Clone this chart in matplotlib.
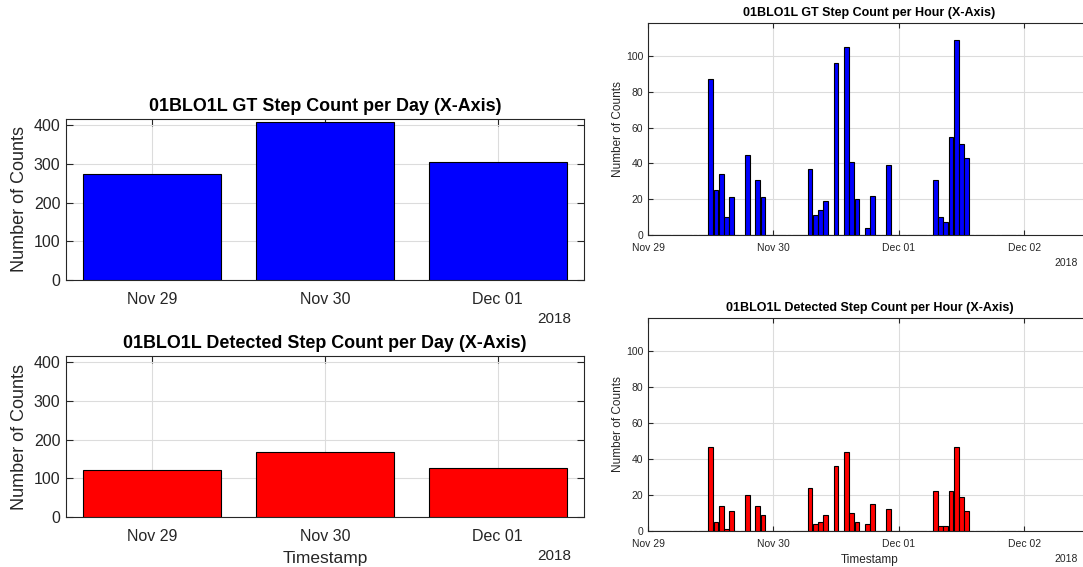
import matplotlib
matplotlib.use("Agg")
import matplotlib.pyplot as plt
import matplotlib.dates as mdates
import numpy as np
from datetime import datetime, timedelta

# ---------------- data ----------------
day_labels = ["Nov 29", "Nov 30", "Dec 01"]
days = [datetime(2018, 11, 29), datetime(2018, 11, 30), datetime(2018, 12, 1)]
gt_daily = [274, 408, 306]
det_daily = [121, 168, 127]

start = datetime(2018, 11, 29)
gt_hourly = [
    0, 0, 0, 0, 0, 0, 0, 0, 0, 0, 0, 0, 87, 25, 34, 10, 21, 0, 0, 45, 0, 31, 21, 0,
    0, 0, 0, 0, 0, 0, 0, 37, 11, 14, 19, 0, 96, 0, 105, 41, 20, 0, 4, 22, 0, 0, 39, 0,
    0, 0, 0, 0, 0, 0, 0, 31, 10, 7, 55, 109, 51, 43, 0, 0, 0, 0, 0, 0, 0, 0, 0, 0,
]
det_hourly = [
    0, 0, 0, 0, 0, 0, 0, 0, 0, 0, 0, 0, 47, 5, 14, 1, 11, 0, 0, 20, 0, 14, 9, 0,
    0, 0, 0, 0, 0, 0, 0, 24, 4, 5, 9, 0, 36, 0, 44, 10, 5, 0, 4, 15, 0, 0, 12, 0,
    0, 0, 0, 0, 0, 0, 0, 22, 3, 3, 22, 47, 19, 11, 0, 0, 0, 0, 0, 0, 0, 0, 0, 0,
]
hour_times = [start + timedelta(hours=h) for h in range(len(gt_hourly))]
hour_ticks = [datetime(2018, 11, 29), datetime(2018, 11, 30), datetime(2018, 12, 1), datetime(2018, 12, 2)]
hour_tick_labels = ["Nov 29", "Nov 30", "Dec 01", "Dec 02"]
year_label = "2018"

# ---------------- style ----------------
plt.rcParams['font.family'] = ['Liberation Sans', 'DejaVu Sans']
AX_COL = '#262626'
W, H = 1083, 567
fig = plt.figure(figsize=(W / 100, H / 100), dpi=100)
fig.patch.set_facecolor('white')


def px_axes(l, t, r, b):
    return fig.add_axes([l / W, 1 - b / H, (r - l) / W, (b - t) / H])


def style(ax, fs, ticklen, xpad, ypad):
    for s in ax.spines.values():
        s.set_color(AX_COL)
        s.set_linewidth(0.8)
    ax.tick_params(direction='in', top=True, right=True, length=ticklen,
                   width=0.8, colors=AX_COL, labelsize=fs)
    ax.tick_params(axis='x', pad=xpad)
    ax.tick_params(axis='y', pad=ypad)
    ax.grid(True, color='#dcdcdc', linewidth=0.8)
    ax.set_axisbelow(True)


# ---- daily charts ----
def daily(ax, vals, color, title, xlabel=None):
    x = mdates.date2num(days)
    ax.bar(x, vals, width=0.8, color=color, edgecolor='black', linewidth=0.8, zorder=3)
    ax.set_xlim(x[0] - 0.5, x[-1] + 0.5)
    ax.set_ylim(0, 416)
    ax.set_xticks(x)
    ax.set_xticklabels(day_labels)
    ax.set_yticks([0, 100, 200, 300, 400])
    style(ax, 11.5, 5, 8.5, 4)
    ax.set_title(title, fontsize=12.9, fontweight='bold', color='black', pad=6)
    ax.set_ylabel("Number of Counts", fontsize=13, color=AX_COL, labelpad=4)
    if xlabel:
        ax.set_xlabel(xlabel, fontsize=12.5, color=AX_COL, labelpad=5)
    ax.text(0.975, -0.245, year_label, transform=ax.transAxes, ha='right', va='center',
            fontsize=11, color=AX_COL)


ax1 = px_axes(66, 119, 584, 280)
daily(ax1, gt_daily, '#0000ff', "01BLO1L GT Step Count per Day (X-Axis)")
ax2 = px_axes(66, 356, 584, 517)
daily(ax2, det_daily, '#ff0000', "01BLO1L Detected Step Count per Day (X-Axis)", "Timestamp")


# ---- hourly charts ----
def hourly(ax, vals, color, title, xlabel=None):
    x = mdates.date2num(hour_times)
    ax.bar(x, vals, width=0.92 / 24, color=color, edgecolor='black', linewidth=0.8, zorder=3)
    x0 = mdates.date2num(start)
    ax.set_xlim(x0, x0 + 3.533)
    ax.set_ylim(0, 118.6)
    ax.set_xticks(mdates.date2num(hour_ticks))
    ax.set_xticklabels(hour_tick_labels)
    ax.set_yticks([0, 20, 40, 60, 80, 100])
    style(ax, 7.5, 3.5, 5.5, 3.5)
    ax.spines['right'].set_visible(False)
    ax.set_title(title, fontsize=9, fontweight='bold', color='black', pad=5)
    ax.set_ylabel("Number of Counts", fontsize=8.5, color=AX_COL, labelpad=1.5)
    if xlabel:
        ax.set_xlabel(xlabel, fontsize=8.5, color=AX_COL, labelpad=3.5)
    ax.text((1078 - 648) / (1091 - 648), -0.132, year_label, transform=ax.transAxes,
            ha='right', va='center', fontsize=7.5, color=AX_COL)


ax3 = px_axes(648, 23, 1091, 235)
hourly(ax3, gt_hourly, '#0000ff', "01BLO1L GT Step Count per Hour (X-Axis)")
ax4 = px_axes(648, 318, 1091, 531)
hourly(ax4, det_hourly, '#ff0000', "01BLO1L Detected Step Count per Hour (X-Axis)", "Timestamp")

fig.savefig("out.png", dpi=100)
